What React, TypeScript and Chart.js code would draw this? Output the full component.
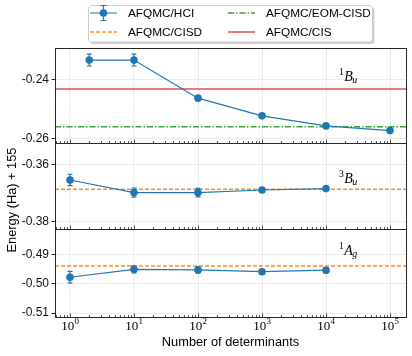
import React, { useEffect, useRef } from "react";
import { Chart, registerables } from "chart.js";
Chart.register(...registerables);

// ---------- data ----------
const X_MIN = 0.583;
const X_MAX = 177800;
const X_MAJOR = [1, 10, 100, 1000, 10000, 100000];

// Panel 1: 1Bu
const BU1_X = [2, 10, 100, 1000, 10000, 100000];
const BU1_HCI = [-0.2335, -0.2335, -0.2464, -0.2524, -0.2558, -0.2574];
const BU1_ERR = [0.002, 0.002, 0.0006, 0.0005, 0.0005, 0.0005];
const BU1_EOM = -0.2561;
const BU1_CIS = -0.2433;
const BU1_RANGE = [-0.2616, -0.2294];
const BU1_TICKS = [-0.26, -0.24];

// Panel 2: 3Bu
const BU3_X = [1, 10, 100, 1000, 10000];
const BU3_HCI = [-0.3655, -0.3699, -0.3699, -0.369, -0.3685];
const BU3_ERR = [0.002, 0.0016, 0.0015, 0.0008, 0.0006];
const BU3_CISD = -0.3687;
const BU3_RANGE = [-0.3827, -0.3526];
const BU3_TICKS = [-0.38, -0.36];

// Panel 3: 1Ag
const AG1_X = [1, 10, 100, 1000, 10000];
const AG1_HCI = [-0.4978, -0.4951, -0.4953, -0.4959, -0.4954];
const AG1_ERR = [0.002, 0.0012, 0.001, 0.0008, 0.0008];
const AG1_CISD = -0.494;
const AG1_RANGE = [-0.5112, -0.4815];
const AG1_TICKS = [-0.51, -0.5, -0.49];

const LABEL_X = 16000;
const PANEL_LABELS = [
  { axis: "yTop", sup: "1", main: "B", sub: "u", y: -0.2405 },
  { axis: "yMid", sup: "3", main: "B", sub: "u", y: -0.3665 },
  { axis: "yBot", sup: "1", main: "A", sub: "g", y: -0.4901 },
];

const LEGEND_LABELS = ["AFQMC/HCI", "AFQMC/CISD", "AFQMC/EOM-CISD", "AFQMC/CIS"];
const X_TITLE = "Number of determinants";
const Y_TITLE = "Energy (Ha) + 155";

// ---------- styles ----------
const BLUE = "#1f77b4";
const ORANGE = "rgba(255,127,14,0.9)";
const GREEN = "rgba(44,160,44,0.95)";
const RED = "rgba(214,39,40,0.8)";
const FRAME = "#262626";
const GRID = "#ebebeb";
const SANS = '"Liberation Sans", Arial, sans-serif';
const SERIF = '"Liberation Serif", "Times New Roman", serif';
const DASH_CISD = [4, 2];
const DASH_EOM = [6, 2, 1.5, 2];

const pts = (xs: number[], ys: number[]) => xs.map((x, i) => ({ x, y: ys[i] }));
const hline = (v: number) => [
  { x: X_MIN, y: v },
  { x: X_MAX, y: v },
];

function hciDataset(xs: number[], ys: number[], errs: number[], axis: string) {
  return {
    label: "AFQMC/HCI",
    data: pts(xs, ys),
    errors: errs,
    yAxisID: axis,
    borderColor: BLUE,
    backgroundColor: BLUE,
    borderWidth: 1.2,
    pointRadius: 3.8,
    pointBorderWidth: 0,
    pointBackgroundColor: BLUE,
    tension: 0,
  };
}

function refDataset(label: string, v: number, axis: string, color: string, dash: number[]) {
  return {
    label,
    data: hline(v),
    yAxisID: axis,
    borderColor: color,
    backgroundColor: color,
    borderWidth: 1.5,
    borderDash: dash,
    pointRadius: 0,
    pointHoverRadius: 0,
  };
}

function yAxis(range: number[], ticks: number[], weight: number) {
  return {
    type: "linear",
    position: "left",
    stack: "panels",
    stackWeight: weight,
    min: range[0],
    max: range[1],
    afterBuildTicks: (s: any) => {
      s.ticks = ticks.map((v) => ({ value: v }));
    },
    afterFit: (s: any) => {
      s.width = 55;
    },
    grid: { color: GRID, lineWidth: 1, tickLength: 3.5, tickColor: FRAME, drawTicks: true },
    border: { display: false },
    ticks: {
      padding: 2.5,
      color: "#111",
      font: { family: SANS, size: 12 },
      callback: (v: any) => Number(v).toFixed(2),
    },
  };
}

function drawHandle(ctx: CanvasRenderingContext2D, kind: number, x: number, y: number) {
  const w = 27;
  ctx.save();
  if (kind === 0) {
    ctx.strokeStyle = BLUE;
    ctx.lineWidth = 1.2;
    ctx.beginPath();
    ctx.moveTo(x, y);
    ctx.lineTo(x + w, y);
    const cx = x + w / 2;
    ctx.moveTo(cx, y - 7.5);
    ctx.lineTo(cx, y + 7.5);
    ctx.moveTo(cx - 3, y - 7.5);
    ctx.lineTo(cx + 3, y - 7.5);
    ctx.moveTo(cx - 3, y + 7.5);
    ctx.lineTo(cx + 3, y + 7.5);
    ctx.stroke();
    ctx.fillStyle = BLUE;
    ctx.beginPath();
    ctx.arc(cx, y, 3.8, 0, Math.PI * 2);
    ctx.fill();
  } else {
    const color = kind === 1 ? ORANGE : kind === 2 ? GREEN : RED;
    const dash = kind === 1 ? DASH_CISD : kind === 2 ? DASH_EOM : [];
    ctx.strokeStyle = color;
    ctx.lineWidth = 1.5;
    ctx.setLineDash(dash);
    ctx.beginPath();
    ctx.moveTo(x, y);
    ctx.lineTo(x + w, y);
    ctx.stroke();
  }
  ctx.restore();
}

const decorPlugin = {
  id: "decor",
  afterDatasetsDraw(chart: any) {
    const ctx: CanvasRenderingContext2D = chart.ctx;
    chart.data.datasets.forEach((ds: any, i: number) => {
      if (!ds.errors) return;
      const meta = chart.getDatasetMeta(i);
      const ys = chart.scales[ds.yAxisID];
      ctx.save();
      ctx.strokeStyle = BLUE;
      ctx.lineWidth = 1.2;
      ds.data.forEach((p: any, j: number) => {
        const x = meta.data[j].x;
        const y1 = ys.getPixelForValue(p.y - ds.errors[j]);
        const y2 = ys.getPixelForValue(p.y + ds.errors[j]);
        ctx.beginPath();
        ctx.moveTo(x, y1);
        ctx.lineTo(x, y2);
        ctx.moveTo(x - 2.5, y1);
        ctx.lineTo(x + 2.5, y1);
        ctx.moveTo(x - 2.5, y2);
        ctx.lineTo(x + 2.5, y2);
        ctx.stroke();
      });
      ctx.restore();
    });
  },
  afterDraw(chart: any) {
    const ctx: CanvasRenderingContext2D = chart.ctx;
    const xs = chart.scales.x;
    const { left, right } = chart.chartArea;
    const panels = ["yTop", "yMid", "yBot"].map((id) => chart.scales[id]);

    // minor / major x ticks inward at bottom of each panel
    const minor: number[] = [];
    for (let e = -1; e <= 5; e++) {
      for (let k = 2; k <= 9; k++) {
        const v = k * Math.pow(10, e);
        if (v >= X_MIN && v <= X_MAX) minor.push(v);
      }
    }
    ctx.save();
    ctx.strokeStyle = FRAME;
    ctx.lineWidth = 0.8;
    panels.forEach((s: any) => {
      const b = Math.round(s.bottom);
      ctx.beginPath();
      minor.forEach((v) => {
        const px = Math.round(xs.getPixelForValue(v)) + 0.5;
        ctx.moveTo(px, b);
        ctx.lineTo(px, b - 2);
      });
      X_MAJOR.forEach((v) => {
        const px = Math.round(xs.getPixelForValue(v)) + 0.5;
        ctx.moveTo(px, b);
        ctx.lineTo(px, b - 3.5);
      });
      ctx.stroke();
    });
    ctx.restore();

    // panel frames
    ctx.save();
    ctx.strokeStyle = FRAME;
    ctx.lineWidth = 1;
    panels.forEach((s: any) => {
      const t = Math.round(s.top) + 0.5;
      const b = Math.round(s.bottom) + 0.5;
      ctx.strokeRect(Math.round(left) + 0.5, t, Math.round(right) - Math.round(left), b - t);
    });
    ctx.restore();

    // panel labels
    ctx.save();
    ctx.fillStyle = "#000";
    ctx.textBaseline = "alphabetic";
    ctx.textAlign = "left";
    PANEL_LABELS.forEach((lab) => {
      const s = chart.scales[lab.axis];
      const px = xs.getPixelForValue(LABEL_X);
      const py = s.getPixelForValue(lab.y);
      ctx.font = `9.5px ${SERIF}`;
      ctx.fillText(lab.sup, px, py - 5.5);
      const x2 = px + ctx.measureText(lab.sup).width + 0.5;
      ctx.font = `italic 14px ${SERIF}`;
      ctx.fillText(lab.main, x2, py);
      const x3 = x2 + ctx.measureText(lab.main).width - 0.5;
      ctx.font = `italic 10px ${SERIF}`;
      ctx.fillText(lab.sub, x3, py + 2.5);
    });
    ctx.restore();

    // x tick labels 10^n
    ctx.save();
    ctx.fillStyle = "#000";
    ctx.textBaseline = "alphabetic";
    ctx.textAlign = "left";
    X_MAJOR.forEach((v) => {
      const px = xs.getPixelForValue(v);
      const ex = String(Math.round(Math.log10(v)));
      ctx.font = `13px ${SERIF}`;
      const w1 = ctx.measureText("10").width;
      ctx.font = `9px ${SERIF}`;
      const w2 = ctx.measureText(ex).width;
      const x0 = px - (w1 + w2) / 2;
      ctx.font = `13px ${SERIF}`;
      ctx.fillText("10", x0, 330);
      ctx.font = `9px ${SERIF}`;
      ctx.fillText(ex, x0 + w1 + 0.3, 323.5);
    });
    ctx.restore();

    // y title
    ctx.save();
    ctx.translate(12, 200);
    ctx.rotate(-Math.PI / 2);
    ctx.textAlign = "center";
    ctx.textBaseline = "middle";
    ctx.fillStyle = "#000";
    ctx.font = `12.8px ${SANS}`;
    ctx.fillText(Y_TITLE, 0, 0);
    ctx.restore();

    // legend
    ctx.save();
    ctx.fillStyle = "rgba(0,0,0,0.18)";
    ctx.beginPath();
    ctx.roundRect(90.5, 7.5, 284, 36.5, 3);
    ctx.fill();
    ctx.fillStyle = "#fff";
    ctx.strokeStyle = "#cccccc";
    ctx.lineWidth = 1;
    ctx.beginPath();
    ctx.roundRect(88.5, 5.5, 284, 36.5, 3);
    ctx.fill();
    ctx.stroke();
    const cols = [90, 228];
    const rows = [13, 32];
    ctx.font = `11.8px ${SANS}`;
    ctx.textBaseline = "middle";
    ctx.textAlign = "left";
    LEGEND_LABELS.forEach((lab, i) => {
      const cx = cols[Math.floor(i / 2)];
      const cy = rows[i % 2];
      const kind = i === 0 ? 0 : i === 1 ? 1 : i === 2 ? 2 : 3;
      drawHandle(ctx, kind, cx, cy);
      ctx.fillStyle = "#000";
      ctx.fillText(lab, cx + 38, cy + 0.5);
    });
    ctx.restore();
  },
};

export default function App() {
  const ref = useRef<HTMLCanvasElement | null>(null);
  useEffect(() => {
    if (!ref.current) return;
    const chart = new Chart(ref.current, {
      type: "line",
      data: {
        datasets: [
          hciDataset(BU1_X, BU1_HCI, BU1_ERR, "yTop"),
          hciDataset(BU3_X, BU3_HCI, BU3_ERR, "yMid"),
          hciDataset(AG1_X, AG1_HCI, AG1_ERR, "yBot"),
          refDataset("AFQMC/EOM-CISD", BU1_EOM, "yTop", GREEN, DASH_EOM),
          refDataset("AFQMC/CIS", BU1_CIS, "yTop", RED, []),
          refDataset("AFQMC/CISD", BU3_CISD, "yMid", ORANGE, DASH_CISD),
          refDataset("AFQMC/CISD", AG1_CISD, "yBot", ORANGE, DASH_CISD),
        ] as any,
      },
      options: {
        responsive: false,
        animation: false,
        events: [],
        layout: { padding: { top: 48, right: 6, left: 0, bottom: 0 } },
        plugins: { legend: { display: false }, tooltip: { enabled: false } },
        scales: {
          x: {
            type: "logarithmic",
            min: X_MIN,
            max: X_MAX,
            afterBuildTicks: (s: any) => {
              s.ticks = X_MAJOR.map((v) => ({ value: v }));
            },
            afterFit: (s: any) => {
              s.height = 39.3;
            },
            grid: { color: GRID, lineWidth: 1, drawTicks: false },
            border: { display: false },
            ticks: { display: false },
            title: {
              display: true,
              text: X_TITLE,
              color: "#000",
              font: { family: SANS, size: 12.8 },
              padding: { top: 0, bottom: 5.6 },
            },
          },
          yBot: yAxis(AG1_RANGE, AG1_TICKS, 87.4),
          yMid: yAxis(BU3_RANGE, BU3_TICKS, 86.3),
          yTop: yAxis(BU1_RANGE, BU1_TICKS, 95),
        } as any,
      },
      plugins: [decorPlugin],
    });
    return () => chart.destroy();
  }, []);
  return (
    <div style={{ position: "fixed", left: 0, top: 0, width: 412, height: 356, background: "#fff" }}>
      <canvas ref={ref} width={412} height={356} style={{ display: "block" }} />
    </div>
  );
}
